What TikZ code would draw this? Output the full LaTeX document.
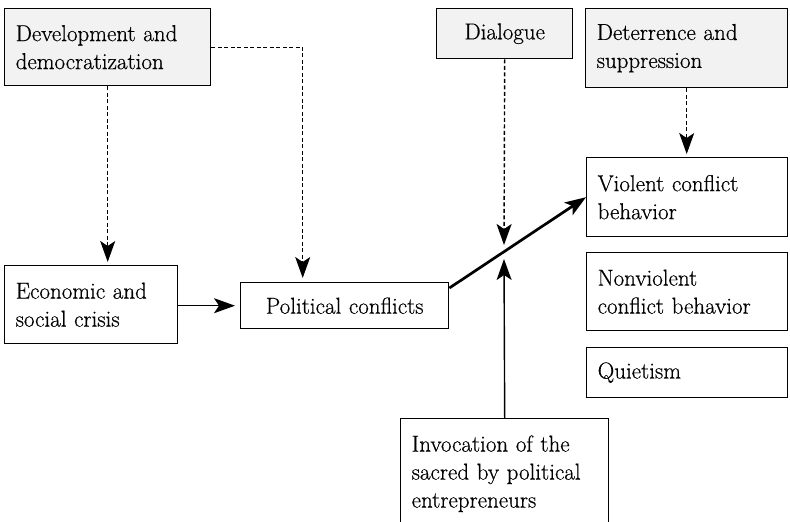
\documentclass[tikz,border=0pt]{standalone}
\usepackage{fontspec}
\setmainfont{Latin Modern Roman}[RawFeature={embolden=0.5}]
\usetikzlibrary{arrows.meta}
\definecolor{boxfill}{HTML}{F2F2F2}
\tikzset{
  box/.style={draw, line width=1.4pt, rectangle, anchor=north west, inner xsep=11pt, inner ysep=0pt,
    align=left, font=\fontsize{23}{28}\selectfont},
  shaded/.style={box, fill=boxfill},
  tip/.style={-{Stealth[length=21pt,width=15pt,inset=5pt]}},
  conn/.style={line width=1.4pt, tip},
  dconn/.style={conn, dash pattern=on 4pt off 2.5pt},
  thickconn/.style={line width=2.7pt, tip}
}
\begin{document}
\begin{tikzpicture}[x=1pt,y=-1pt]
\clip (0,0) rectangle (790,522);
\node[shaded, text width=184pt, minimum height=77pt] (dev) at (4,8) {Development and\\democratization};
\node[shaded, text width=114pt, minimum height=50pt, align=center] (dia) at (436,8) {Dialogue};
\node[shaded, text width=180pt, minimum height=79pt] (det) at (585,8) {Deterrence and\\suppression};
\node[box, text width=151pt, minimum height=78pt] (eco) at (4,265) {Economic and\\social crisis};
\node[box, text width=186pt, minimum height=46pt, align=center] (pol) at (240,282) {Political conflicts};
\node[box, text width=179pt, minimum height=79pt] (vio) at (586,157) {Violent conflict\\behavior};
\node[box, text width=179pt, minimum height=78pt] (non) at (586,252) {Nonviolent\\conflict behavior};
\node[box, text width=179pt, minimum height=50pt] (qui) at (586,347) {Quietism};
\node[box, text width=186pt, minimum height=110pt] (inv) at (400,418) {Invocation of the\\sacred by political\\entrepreneurs};
\coordinate (cross) at (504,251);
\draw[dconn, shorten >=3pt] (dev.south) -- (dev.south |- eco.north);
\draw[dconn, shorten >=4pt] (dev.east) -| ([xshift=-42pt]pol.north);
\draw[conn, shorten >=5pt] (eco.east |- pol.west) -- (pol.west);
\draw[thickconn] ([yshift=-6pt]pol.north east) -- (vio.west);
\draw[dconn] (dia.south) -- ([yshift=6pt]cross);
\draw[conn] (inv.north) -- ([yshift=-8pt]cross);
\draw[dconn, shorten >=3pt] (det.south) -- (det.south |- vio.north);
\end{tikzpicture}
\end{document}
